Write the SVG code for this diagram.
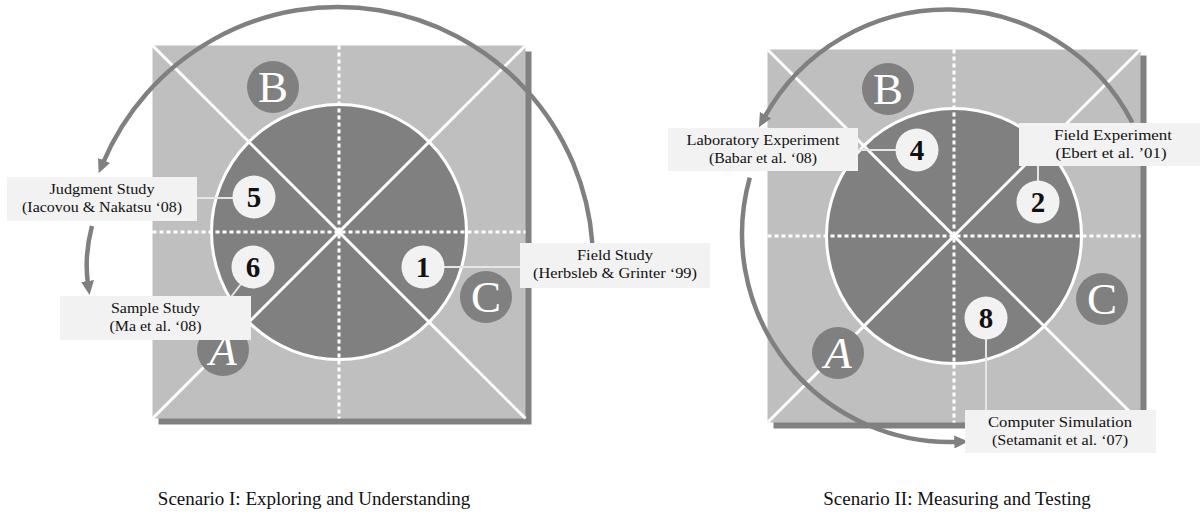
<svg xmlns="http://www.w3.org/2000/svg" width="1200" height="518" viewBox="0 0 1200 518">
<style>
.shadow{fill:#808080}
.sq{fill:#bfbfbf}
.core{fill:#808080;stroke:#fff;stroke-width:3}
.dot{stroke:#fff;stroke-width:3;stroke-dasharray:4 3;fill:none}
.diag{stroke:#fff;stroke-width:3;fill:none}
.letc{fill:#808080}
.let{font-family:"Liberation Serif",serif;font-size:45px;fill:#fff;text-anchor:middle}
.numc{fill:#f2f2f2}
.num{font-family:"Liberation Serif",serif;font-size:29px;font-weight:bold;fill:#111;text-anchor:middle}
.box{fill:#f2f2f2}
.lbl{font-family:"Liberation Serif",serif;font-size:15.5px;fill:#111;text-anchor:middle}
.ttl{font-family:"Liberation Serif",serif;font-size:19px;fill:#111;text-anchor:middle}
.lead{stroke:#e6e6e6;stroke-width:2;fill:none}
.flow{stroke:#808080;stroke-width:4.5;fill:none;marker-end:url(#ah)}
</style>
<defs>
<marker id="ah" markerUnits="userSpaceOnUse" markerWidth="16" markerHeight="14" refX="3" refY="7" orient="auto">
<path d="M0,0.5 L14,7 L0,13.5 z" fill="#808080"/>
</marker>
</defs>

<g id="frame1">
<rect class="shadow" x="158.5" y="51.5" width="373" height="373"/>
<rect class="sq" x="152.5" y="45.5" width="373" height="373"/>
<circle class="core" cx="339" cy="232" r="127.5"/>
<line class="dot" x1="339" y1="45.5" x2="339" y2="418.5"/>
<line class="dot" x1="152.5" y1="232" x2="525.5" y2="232"/>
<line class="diag" x1="152.5" y1="45.5" x2="525.5" y2="418.5"/>
<line class="diag" x1="525.5" y1="45.5" x2="152.5" y2="418.5"/>
</g>
<g id="s1-B"><circle class="letc" cx="273" cy="87" r="26"/><text class="let" x="273" y="102">B</text></g>
<g id="s1-C"><circle class="letc" cx="486" cy="297" r="26"/><text class="let" x="486" y="312">C</text></g>
<g id="s1-A"><circle class="letc" cx="223" cy="350" r="26"/><text class="let" x="223" y="365" font-style="italic">A</text></g>

<g id="frame2">
<rect class="shadow" x="773.5" y="55.5" width="373" height="373"/>
<rect class="sq" x="767.5" y="49.5" width="373" height="373"/>
<circle class="core" cx="954" cy="236" r="127.5"/>
<line class="dot" x1="954" y1="49.5" x2="954" y2="422.5"/>
<line class="dot" x1="767.5" y1="236" x2="1140.5" y2="236"/>
<line class="diag" x1="767.5" y1="49.5" x2="1140.5" y2="422.5"/>
<line class="diag" x1="1140.5" y1="49.5" x2="767.5" y2="422.5"/>
</g>
<g id="s2-B"><circle class="letc" cx="888" cy="89" r="26"/><text class="let" x="888" y="104">B</text></g>
<g id="s2-C"><circle class="letc" cx="1102" cy="299" r="26"/><text class="let" x="1102" y="314">C</text></g>
<g id="s2-A"><circle class="letc" cx="838" cy="353" r="26"/><text class="let" x="838" y="368" font-style="italic">A</text></g>

<g id="connectors">
<line class="lead" x1="197" y1="198" x2="234" y2="198"/>
<line class="lead" x1="241" y1="284" x2="231" y2="297"/>
<line class="lead" x1="444" y1="267" x2="520" y2="267"/>
<line class="lead" x1="858" y1="150" x2="896" y2="150"/>
<line class="lead" x1="1038" y1="166" x2="1038" y2="181"/>
<line class="lead" x1="986" y1="339" x2="986" y2="410"/>
<path class="flow" d="M 592.3 243 A 255 255 0 0 0 102.9 163.2"/>
<path class="flow" d="M 92 226 Q 84 256 88 284"/>
<path class="flow" d="M 1132.4 122.7 A 208.5 208.5 0 0 0 764.2 117.7"/>
<path class="flow" d="M 749.8 177.7 A 208 208 0 0 0 957.3 441.9"/>
</g>

<g id="n5"><circle class="numc" cx="254" cy="197" r="21.5"/><text class="num" x="254" y="207">5</text></g>
<g id="n6"><circle class="numc" cx="253" cy="267" r="21.5"/><text class="num" x="253" y="277">6</text></g>
<g id="n1"><circle class="numc" cx="423" cy="267" r="21.5"/><text class="num" x="423" y="277">1</text></g>
<g id="n4"><circle class="numc" cx="917" cy="150" r="21.5"/><text class="num" x="917" y="160">4</text></g>
<g id="n2"><circle class="numc" cx="1038" cy="202" r="21.5"/><text class="num" x="1038" y="212">2</text></g>
<g id="n8"><circle class="numc" cx="986" cy="318" r="21.5"/><text class="num" x="986" y="328">8</text></g>

<g id="judgment">
<rect class="box" x="7" y="177" width="190" height="44"/>
<text class="lbl" x="102" y="194" textLength="105" lengthAdjust="spacingAndGlyphs">Judgment Study</text>
<text class="lbl" x="102" y="212" textLength="160" lengthAdjust="spacingAndGlyphs">(Iacovou &amp; Nakatsu ‘08)</text>
</g>
<g id="sample">
<rect class="box" x="60" y="296" width="191" height="44"/>
<text class="lbl" x="155.5" y="313" textLength="89" lengthAdjust="spacingAndGlyphs">Sample Study</text>
<text class="lbl" x="155.5" y="331" textLength="92" lengthAdjust="spacingAndGlyphs">(Ma et al. ‘08)</text>
</g>
<g id="fieldstudy">
<rect class="box" x="520" y="243" width="190" height="45"/>
<text class="lbl" x="615" y="260" textLength="76" lengthAdjust="spacingAndGlyphs">Field Study</text>
<text class="lbl" x="615" y="278" textLength="164" lengthAdjust="spacingAndGlyphs">(Herbsleb &amp; Grinter ‘99)</text>
</g>
<g id="lab">
<rect class="box" x="668" y="128" width="190" height="43"/>
<text class="lbl" x="763" y="145" textLength="153" lengthAdjust="spacingAndGlyphs">Laboratory Experiment</text>
<text class="lbl" x="763" y="163" textLength="108" lengthAdjust="spacingAndGlyphs">(Babar et al. ‘08)</text>
</g>
<g id="fieldexp">
<rect class="box" x="1019" y="123" width="190" height="43"/>
<text class="lbl" x="1113" y="140" textLength="118" lengthAdjust="spacingAndGlyphs">Field Experiment</text>
<text class="lbl" x="1111" y="158" textLength="111" lengthAdjust="spacingAndGlyphs">(Ebert et al. ’01)</text>
</g>
<g id="compsim">
<rect class="box" x="965" y="410" width="191" height="43"/>
<text class="lbl" x="1060" y="427" textLength="144" lengthAdjust="spacingAndGlyphs">Computer Simulation</text>
<text class="lbl" x="1060" y="445" textLength="136" lengthAdjust="spacingAndGlyphs">(Setamanit et al. ‘07)</text>
</g>

<g id="titles">
<text class="ttl" x="314" y="505">Scenario I: Exploring and Understanding</text>
<text class="ttl" x="957" y="505">Scenario II: Measuring and Testing</text>
</g>
</svg>
